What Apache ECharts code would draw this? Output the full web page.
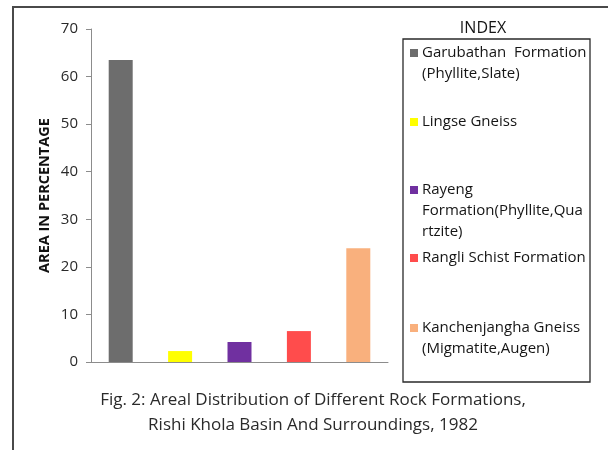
<!DOCTYPE html>
<html>
<head>
<meta charset="utf-8">
<script src="https://cdn.jsdelivr.net/npm/echarts@6/dist/echarts.min.js"></script>
<style>
  html, body { margin: 0; padding: 0; background: #fff; }
  #chart { width: 608px; height: 450px; }
</style>
</head>
<body>
<div id="chart"></div>
<script>
// Rock formations of the basin and their share of the area (%)
const formations = [
  'Garubathan  Formation\n(Phyllite,Slate)',
  'Lingse Gneiss',
  'Rayeng\nFormation(Phyllite,Qua\nrtzite)',
  'Rangli Schist Formation',
  'Kanchenjangha Gneiss\n(Migmatite,Augen)'
];
const areaPercent = [63.5, 2.3, 4.2, 6.5, 23.9];
const barColors = ['#6d6d6d', '#ffff00', '#7030a0', '#ff4c4c', '#f9b07d'];
const yTicks = { min: 0, max: 70, interval: 10 };

// vertical centre of the first text line of each INDEX entry
const indexRows = [53, 122, 190, 258, 328];
const INDEX_LINE = 21;

const FONT = '"Open Sans", "Noto Sans", sans-serif';

const chart = echarts.init(document.getElementById('chart'), null, { renderer: 'canvas' });

// INDEX panel: a colour swatch and a wrapped label per formation
const indexGraphics = [];
formations.forEach((name, i) => {
  const cy = indexRows[i];
  indexGraphics.push({
    type: 'rect', silent: true,
    shape: { x: 410, y: cy - 4, width: 8, height: 8 },
    style: { fill: barColors[i] }
  });
  indexGraphics.push({
    type: 'text', silent: true, x: 422, y: cy - INDEX_LINE / 2,
    style: {
      text: name, font: '15px ' + FONT, fill: '#151515',
      lineHeight: INDEX_LINE, textAlign: 'left', textVerticalAlign: 'top'
    }
  });
});

chart.setOption({
  animation: false,
  backgroundColor: '#fff',
  grid: { left: 91, right: 220, top: 29, bottom: 88, containLabel: false },
  xAxis: {
    type: 'category',
    data: formations,
    axisLine: { lineStyle: { color: '#8c8c8c', width: 1 } },
    axisTick: { show: false },
    axisLabel: { show: false }
  },
  yAxis: {
    type: 'value',
    min: yTicks.min,
    max: yTicks.max,
    interval: yTicks.interval,
    name: 'AREA IN PERCENTAGE',
    nameLocation: 'middle',
    nameGap: 39,
    nameTextStyle: { fontFamily: FONT, fontSize: 14.5, fontWeight: 'bold', color: '#111' },
    axisLine: { show: true, lineStyle: { color: '#8c8c8c', width: 1 } },
    axisTick: { show: true, inside: false, length: 5, lineStyle: { color: '#8c8c8c' } },
    splitLine: { show: false },
    axisLabel: { fontFamily: FONT, fontSize: 15, color: '#2a2a2a', margin: 13 }
  },
  series: [{
    type: 'bar',
    barWidth: 24,
    data: areaPercent.map((v, i) => ({ value: v, itemStyle: { color: barColors[i] } }))
  }],
  graphic: [
    // outer frame
    { type: 'rect', silent: true, shape: { x: 13, y: 7, width: 610, height: 460 }, style: { fill: 'none', stroke: '#4a4a4a', lineWidth: 2 } },
    // INDEX frame and heading
    { type: 'rect', silent: true, shape: { x: 403, y: 39, width: 187, height: 343 }, style: { fill: 'none', stroke: '#2a2a2a', lineWidth: 1.3 } },
    { type: 'text', silent: true, x: 483, y: 28, style: { text: 'INDEX', font: '16px ' + FONT, fill: '#151515', textAlign: 'center', textVerticalAlign: 'middle' } },
    // figure caption
    { type: 'text', silent: true, x: 313, y: 400, style: { text: 'Fig. 2: Areal Distribution of Different Rock Formations,', font: '17px ' + FONT, fill: '#2a2a2a', textAlign: 'center', textVerticalAlign: 'middle' } },
    { type: 'text', silent: true, x: 313, y: 425, style: { text: 'Rishi Khola Basin And Surroundings, 1982', font: '17px ' + FONT, fill: '#2a2a2a', textAlign: 'center', textVerticalAlign: 'middle' } }
  ].concat(indexGraphics)
});
</script>
</body>
</html>
